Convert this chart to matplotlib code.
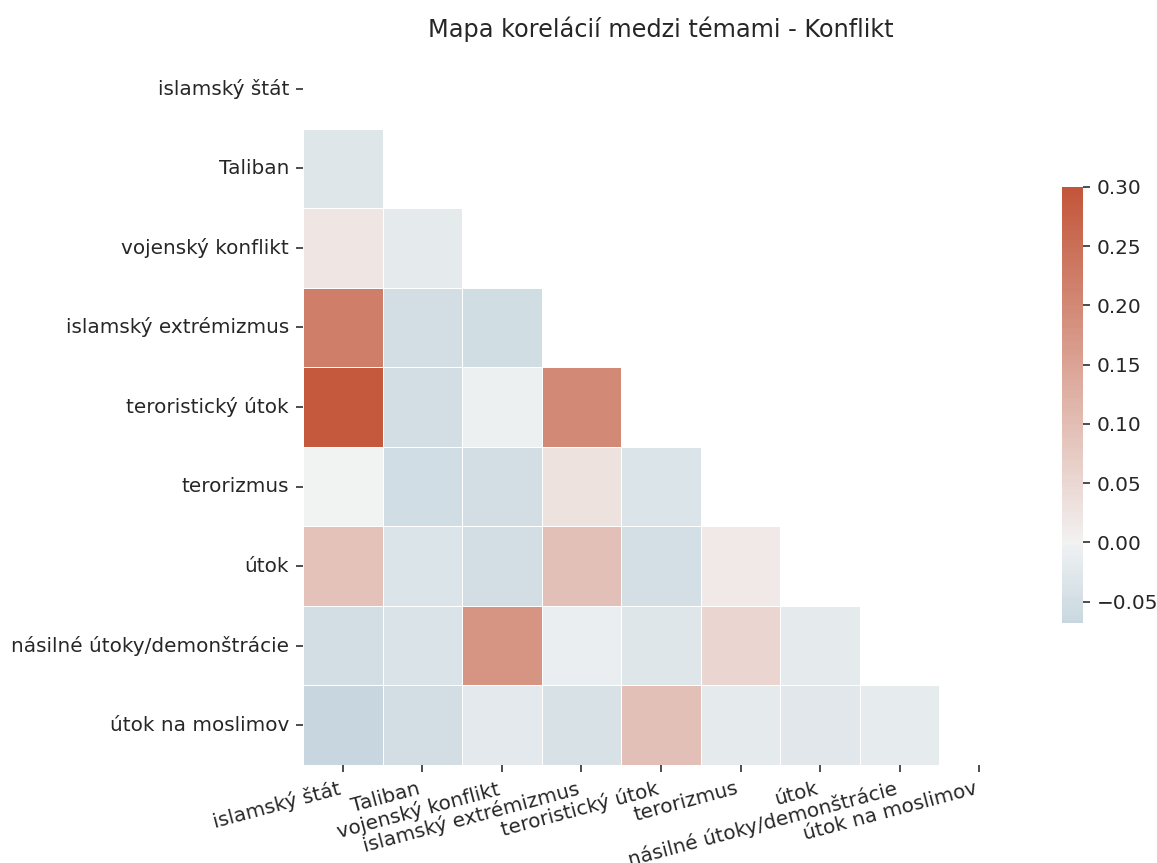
import numpy as np
import pandas as pd
import matplotlib
matplotlib.use("Agg")
import matplotlib.pyplot as plt
import seaborn as sns

topics = ["islamský štát", "Taliban", "vojenský konflikt", "islamský extrémizmus",
          "teroristický útok", "terorizmus", "útok", "násilné útoky/demonštrácie",
          "útok na moslimov"]

# lower-triangle correlations (row i, columns 0..i-1)
r_taliban = [-0.030]
r_vojensky = [0.025, -0.020]
r_extremizmus = [0.220, -0.050, -0.055]
r_teroristicky = [0.290, -0.050, -0.005, 0.200]
r_terorizmus = [0.000, -0.052, -0.048, 0.030, -0.035]
r_utok = [0.090, -0.036, -0.048, 0.095, -0.047, 0.015]
r_nasilne = [-0.048, -0.037, 0.180, -0.010, -0.028, 0.055, -0.020]
r_moslimov = [-0.068, -0.048, -0.022, -0.043, 0.095, -0.020, -0.025, -0.017]

rows = [[], r_taliban, r_vojensky, r_extremizmus, r_teroristicky, r_terorizmus,
        r_utok, r_nasilne, r_moslimov]

n = len(topics)
mat = np.eye(n)
for i, vals in enumerate(rows):
    for j, v in enumerate(vals):
        mat[i, j] = v
        mat[j, i] = v
corr = pd.DataFrame(mat, index=topics, columns=topics)
mask = np.triu(np.ones_like(mat, dtype=bool))

plt.rcParams.update({
    "text.color": ".15",
    "axes.labelcolor": ".15",
    "xtick.color": ".15",
    "ytick.color": ".15",
})

W, H, DPI = 1157, 863, 144
fig = plt.figure(figsize=(W / DPI, H / DPI), dpi=DPI)
ax = fig.add_axes([303 / W, (H - 765) / H, 716 / W, 716 / H])
cax = fig.add_axes([1062 / W, (H - 623) / H, 21 / W, 436 / H])

cmap = sns.diverging_palette(230, 20, as_cmap=True)
sns.heatmap(corr, mask=mask, cmap=cmap, vmax=0.3, center=0, square=True,
            linewidths=0.5, ax=ax, cbar_ax=cax)
ax.set_title("Mapa korelácií medzi témami - Konflikt")
ax.set_xticklabels(topics, rotation=15, ha="right")
ax.set_yticklabels(topics, rotation=0)

fig.savefig("out.png", dpi=DPI)
